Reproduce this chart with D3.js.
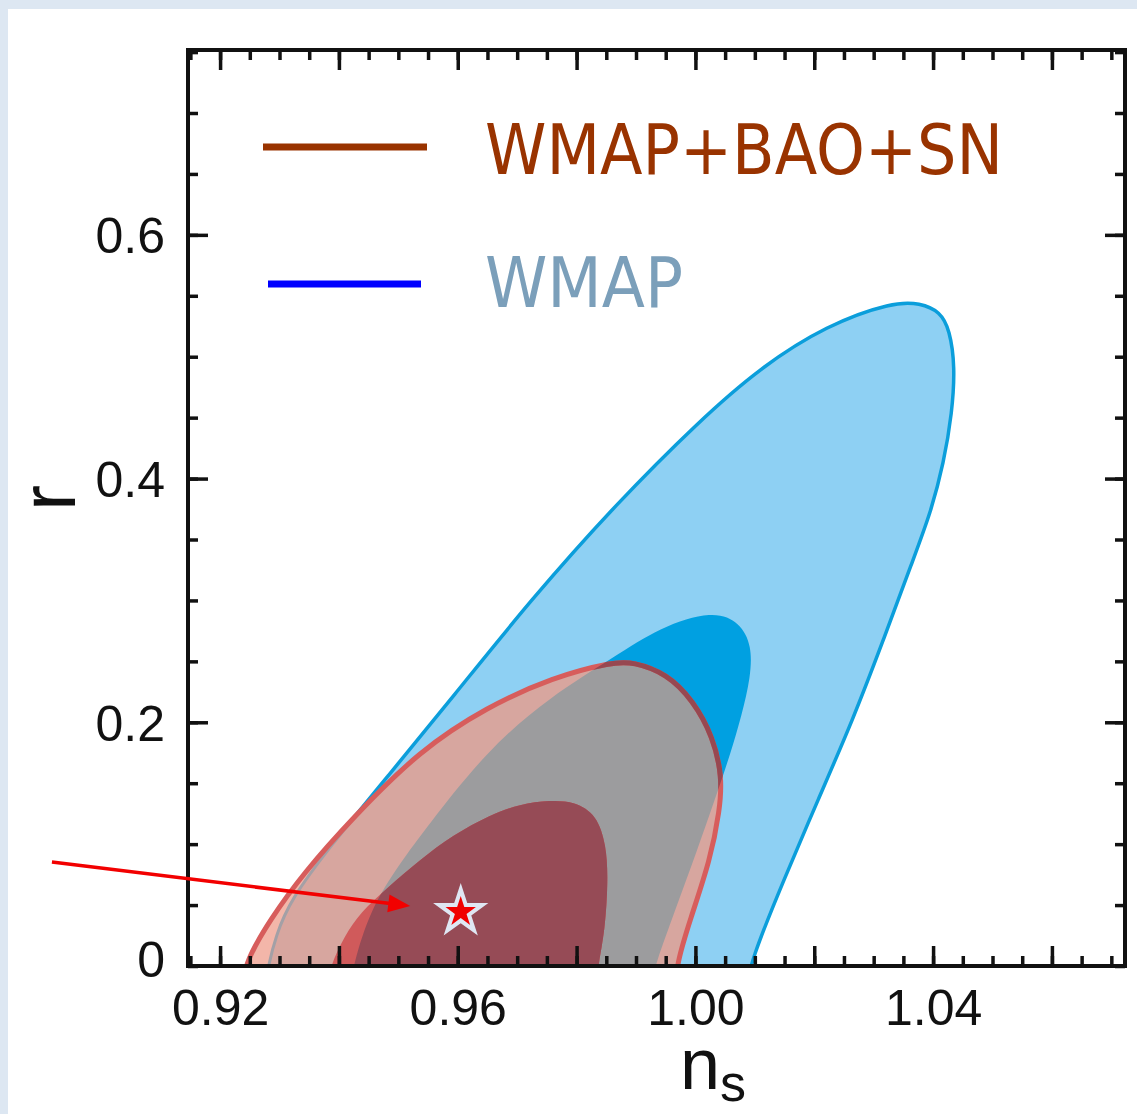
<!DOCTYPE html>
<html lang="en">
<head>
<meta charset="UTF-8">
<title>r vs n_s</title>
<style>
  body { margin: 0; background: #dde7f2; }
  svg { display: block; }
</style>
</head>
<body>
<script src="https://d3js.org/d3.v7.min.js"></script>
<div id="my_dataviz"></div>
<script>
// contour outlines, [n_s, r] pairs (points below r=0 get clipped)
const wmap95 = [[0.9277,-0.016],[0.9281,0],[0.9294,0.025],[0.9318,0.054],[0.9385,0.098],[0.9481,0.155],
  [0.9592,0.221],[0.9722,0.300],[0.9868,0.380],[1.0008,0.448],[1.0109,0.491],[1.0221,0.526],[1.0333,0.545],
  [1.0378,0.544],[1.0412,0.537],[1.0428,0.522],[1.0437,0.492],[1.0432,0.454],[1.0418,0.413],[1.0396,0.372],
  [1.0366,0.333],[1.0316,0.267],[1.0265,0.202],[1.0206,0.136],[1.0149,0.071],[1.0092,0.0025],[1.0088,-0.016]];
const wmap68 = [[0.9419,-0.016],[0.9424,0],[0.9452,0.046],[0.9503,0.0845],[0.9548,0.114],[0.9649,0.177],
  [0.9755,0.221],[0.9865,0.254],[0.9940,0.278],[1.0030,0.292],[1.0075,0.282],[1.0095,0.263],[1.0093,0.237],
  [1.0078,0.206],[1.0058,0.173],[1.0038,0.144],[1.0003,0.095],[0.9966,0.046],[0.9932,0],[0.9924,-0.016]];
const combo95 = [[0.9239,-0.016],[0.9242,0.0025],[0.9284,0.038],[0.9340,0.076],[0.9424,0.122],[0.9536,0.177],
  [0.9649,0.2125],[0.9760,0.237],[0.9861,0.2495],[0.9895,0.2495],[0.9952,0.240],[0.9996,0.218],[1.0030,0.188],
  [1.0045,0.155],[1.0041,0.128],[1.0025,0.087],[0.9991,0.038],[0.9969,0.0025],[0.9967,-0.016]];
const combo68 = [[0.9382,-0.016],[0.9385,0],[0.9410,0.025],[0.9436,0.044],[0.9481,0.064],[0.9536,0.087],
  [0.9592,0.1075],[0.9654,0.124],[0.9705,0.133],[0.9755,0.136],[0.9797,0.135],[0.9834,0.124],[0.9850,0.099],
  [0.9853,0.0706],[0.9848,0.0295],[0.9836,0],[0.9834,-0.016]];
const bestFit = [0.9605, 0.0443];
const arrowFrom = [0.8917, 0.0853];
const arrowTo = [0.9520, 0.0492];
const xLabelTicks = [0.92, 0.96, 1.00, 1.04];
const yLabelTicks = [0, 0.2, 0.4, 0.6];
const legendNames = ["WMAP+BAO+SN", "WMAP"];

const W = 1137, H = 1114;
const margin = {top: 50, right: 12, bottom: 148, left: 188};
const width = W - margin.left - margin.right,
      height = H - margin.top - margin.bottom;

const svg = d3.select("#my_dataviz").append("svg").attr("width", W).attr("height", H);
svg.append("rect").attr("width", W).attr("height", H).attr("fill", "#dde7f2");
svg.append("rect").attr("x", 8).attr("y", 9).attr("width", W - 8).attr("height", H - 9).attr("fill", "white");

const x = d3.scaleLinear().domain([0.9146, 1.0723]).range([margin.left, margin.left + width]);
const y = d3.scaleLinear().domain([0, 0.7517]).range([margin.top + height, margin.top]);

// B-spline through the traced points keeps the outlines smooth
const line = d3.line().x(d => x(d[0])).y(d => y(d[1])).curve(d3.curveBasis);
const shape = pts => line(pts) + "Z";

const defs = svg.append("defs");
defs.append("clipPath").attr("id", "plotClip").append("rect")
  .attr("x", margin.left).attr("y", margin.top).attr("width", width).attr("height", height);
[["c95", wmap95], ["c68", wmap68], ["r95", combo95]].forEach(([id, pts]) =>
  defs.append("clipPath").attr("id", id).append("path").attr("d", shape(pts)));

const plot = svg.append("g").attr("clip-path", "url(#plotClip)");
// opaque layers + clip paths stand in for the transparent overlay of the original
const layer = (pts, clip) => {
  const g = clip ? plot.append("g").attr("clip-path", `url(#${clip})`) : plot;
  return g.append("path").attr("d", shape(pts));
};

layer(wmap95).attr("fill", "#8ed0f3");
layer(wmap68).attr("fill", "#00a0e1");
layer(wmap95).attr("fill", "none").attr("stroke", "#0b9edb").attr("stroke-width", 3.5);
layer(combo95).attr("fill", "#f3b6a9");
layer(combo95, "c95").attr("fill", "#d7a69f");
layer(combo95, "c68").attr("fill", "#9c9c9e");
layer(wmap95, "r95").attr("fill", "none").attr("stroke", "#a3a0a6").attr("stroke-width", 3);
layer(combo68, "c95").attr("fill", "#d05a5b");
layer(combo68, "c68").attr("fill", "#964b56");
layer(combo95).attr("fill", "none").attr("stroke", "#d75d5c").attr("stroke-width", 5);
layer(combo95, "c68").attr("fill", "none").attr("stroke", "#974851").attr("stroke-width", 5);

// ticks on all four sides, pointing in
const xMinor = x.ticks(30), yMinor = y.ticks(15);
const isMajor = (v, step) => Math.abs(v / step - Math.round(v / step)) < 1e-6;
const xMajor = xMinor.filter(v => isMajor(v, 0.02));
const yMajor = yMinor.filter(v => isMajor(v, 0.2) && v > 0);
const tickStyle = g => {
  g.select(".domain").remove();
  g.selectAll(".tick line").attr("stroke", "#111").attr("stroke-width", 3.5);
  g.selectAll("text").remove();
};
const sides = [
  [d3.axisBottom, x, `translate(0,${margin.top + height})`, xMinor, xMajor],
  [d3.axisTop, x, `translate(0,${margin.top})`, xMinor, xMajor],
  [d3.axisLeft, y, `translate(${margin.left},0)`, yMinor, yMajor],
  [d3.axisRight, y, `translate(${margin.left + width},0)`, yMinor, yMajor]
];
sides.forEach(([axis, sc, tr, minor, major]) => {
  svg.append("g").attr("transform", tr).call(axis(sc).tickValues(minor).tickSize(-10)).call(tickStyle);
  svg.append("g").attr("transform", tr).call(axis(sc).tickValues(major).tickSize(-20)).call(tickStyle);
});

svg.append("rect")
  .attr("x", margin.left).attr("y", margin.top).attr("width", width).attr("height", height)
  .attr("fill", "none").attr("stroke", "#111").attr("stroke-width", 4);

// tick labels
const labelFont = "'Liberation Sans', Arial, Helvetica, sans-serif";
svg.append("g").attr("transform", `translate(0,${margin.top + height})`)
  .call(d3.axisBottom(x).tickValues(xLabelTicks).tickSize(0).tickPadding(23).tickFormat(d3.format(".2f")))
  .call(g => g.select(".domain").remove())
  .selectAll("text").attr("font-size", 50).attr("font-family", labelFont).attr("fill", "#111");
svg.append("g").attr("transform", `translate(${margin.left},0)`)
  .call(d3.axisLeft(y).tickValues(yLabelTicks).tickSize(0).tickPadding(23)
    .tickFormat(d => d === 0 ? "0" : d.toFixed(1)))
  .call(g => g.select(".domain").remove())
  .selectAll("text").attr("font-size", 50).attr("font-family", labelFont).attr("fill", "#111")
  .attr("dy", d => d === 0 ? "0.2em" : "0.36em");

// axis titles
svg.append("text")
  .attr("transform", "translate(75,498) rotate(-90)")
  .attr("text-anchor", "middle")
  .attr("font-family", labelFont).attr("font-size", 78).attr("fill", "#111")
  .text("r");
const xt = svg.append("text")
  .attr("x", 680).attr("y", 1089)
  .attr("font-family", labelFont).attr("font-size", 72).attr("fill", "#111");
xt.append("tspan").text("n");
xt.append("tspan").attr("font-size", 52).attr("dy", 12).text("s");

// legend
const legendLine = [["#993300", 263, 427, 147], ["#0000ff", 268, 421, 284]];
const legendText = [["#993300", 174, 518], ["#7b9fba", 307, 198]];
legendNames.forEach((name, i) => {
  const [lc, x1, x2, ly] = legendLine[i];
  svg.append("line").attr("x1", x1).attr("x2", x2).attr("y1", ly).attr("y2", ly)
    .attr("stroke", lc).attr("stroke-width", 7);
  const [tc, ty, tl] = legendText[i];
  svg.append("text").attr("x", 485).attr("y", ty)
    .attr("font-family", "'DejaVu Sans', Verdana, sans-serif").attr("font-size", 70)
    .attr("textLength", tl).attr("lengthAdjust", "spacingAndGlyphs")
    .attr("fill", tc).text(name);
});

// arrow to the best-fit point
const p0 = [x(arrowFrom[0]), y(arrowFrom[1])], p1 = [x(arrowTo[0]), y(arrowTo[1])];
const len = Math.hypot(p1[0] - p0[0], p1[1] - p0[1]);
const u = [(p1[0] - p0[0]) / len, (p1[1] - p0[1]) / len], nrm = [-u[1], u[0]];
const headL = 22, headW = 9;
svg.append("line")
  .attr("x1", p0[0]).attr("y1", p0[1])
  .attr("x2", p1[0] - u[0] * (headL - 4)).attr("y2", p1[1] - u[1] * (headL - 4))
  .attr("stroke", "#f20000").attr("stroke-width", 3.5);
const b = [p1[0] - u[0] * headL, p1[1] - u[1] * headL];
svg.append("path")
  .attr("d", `M${p1[0]},${p1[1]}L${b[0] + nrm[0] * headW},${b[1] + nrm[1] * headW}L${b[0] - nrm[0] * headW},${b[1] - nrm[1] * headW}Z`)
  .attr("fill", "#f20000");

// star marker
const star = svg.append("g").attr("transform", `translate(${x(bestFit[0])},${y(bestFit[1])})`);
star.append("path").attr("d", d3.symbol(d3.symbolStar, 950)()).attr("fill", "#dfe7f3");
star.append("path").attr("d", d3.symbol(d3.symbolStar, 287)()).attr("fill", "#f00000");
</script>
</body>
</html>
